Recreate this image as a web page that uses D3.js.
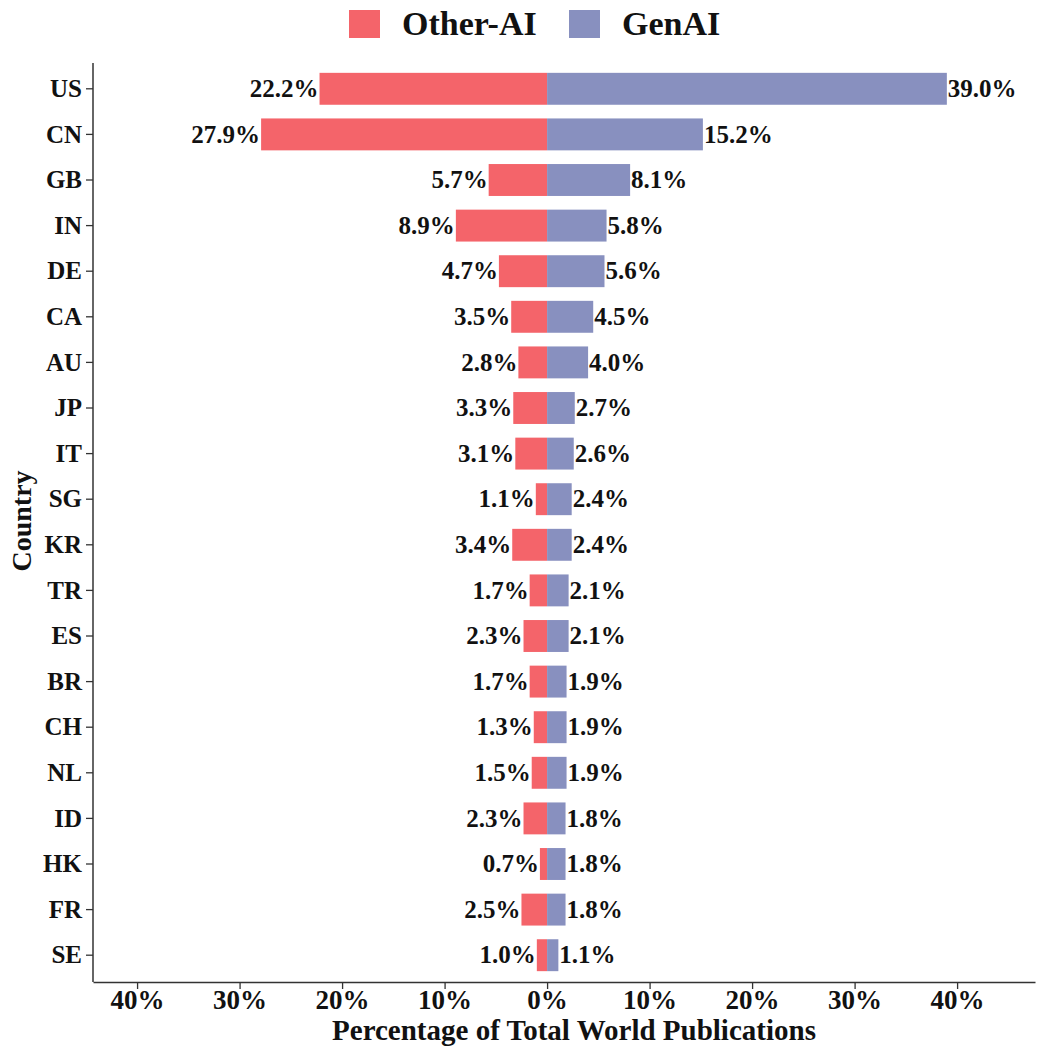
<!DOCTYPE html>
<html><head><meta charset="utf-8">
<script src="https://cdn.jsdelivr.net/npm/d3@7"></script>
<style>
body{margin:0;background:#fff;}
text{font-family:"Liberation Serif","Times New Roman",serif;font-weight:bold;fill:#111;}
</style></head>
<body><svg id="c" width="1038" height="1048"></svg>
<script>
const countries = ["US","CN","GB","IN","DE","CA","AU","JP","IT","SG","KR","TR","ES","BR","CH","NL","ID","HK","FR","SE"];
const otherAI = [22.2,27.9,5.7,8.9,4.7,3.5,2.8,3.3,3.1,1.1,3.4,1.7,2.3,1.7,1.3,1.5,2.3,0.7,2.5,1.0];
const genAI = [39.0,15.2,8.1,5.8,5.6,4.5,4.0,2.7,2.6,2.4,2.4,2.1,2.1,1.9,1.9,1.9,1.8,1.8,1.8,1.1];
const xTicks = [-40,-30,-20,-10,0,10,20,30,40];
const seriesNames = ["Other-AI","GenAI"];
const colors = ["#f4646a","#8890bf"];

const svg = d3.select("#c");
const x = d3.scaleLinear().domain([-44.3,47.6]).range([93,1035]);
const y = d3.scaleBand().domain(countries).range([66,978]).paddingInner(0.3).paddingOuter(0.15);

// bars
svg.append("g").selectAll("rect").data(countries).join("rect")
  .attr("x",(d,i)=>x(-otherAI[i])).attr("y",d=>y(d))
  .attr("width",(d,i)=>x(0)-x(-otherAI[i])).attr("height",y.bandwidth())
  .attr("fill",colors[0]);
svg.append("g").selectAll("rect").data(countries).join("rect")
  .attr("x",x(0)).attr("y",d=>y(d))
  .attr("width",(d,i)=>x(genAI[i])-x(0)).attr("height",y.bandwidth())
  .attr("fill",colors[1]);

// value labels
svg.append("g").selectAll("text").data(countries).join("text")
  .attr("x",(d,i)=>x(-otherAI[i])-1).attr("y",d=>y(d)+y.bandwidth()/2)
  .attr("dy","0.33em").attr("text-anchor","end").style("font-size","25px")
  .text((d,i)=>otherAI[i].toFixed(1)+"%");
svg.append("g").selectAll("text").data(countries).join("text")
  .attr("x",(d,i)=>x(genAI[i])+1).attr("y",d=>y(d)+y.bandwidth()/2)
  .attr("dy","0.33em").attr("text-anchor","start").style("font-size","25px")
  .text((d,i)=>genAI[i].toFixed(1)+"%");

// x axis
const xa = svg.append("g").attr("transform","translate(0,982)")
  .call(d3.axisBottom(x).tickValues(xTicks).tickSize(7).tickSizeOuter(0).tickFormat(d=>Math.abs(d)+"%"));
xa.select(".domain").attr("stroke","#333").attr("stroke-width",1.5);
xa.selectAll(".tick line").attr("stroke","#333").attr("stroke-width",1.3);
xa.selectAll(".tick text").style("font-size","27px").attr("y",27).attr("dy",0);

// y axis
const ya = svg.append("g").attr("transform","translate(93,0)")
  .call(d3.axisLeft(y).tickSize(7).tickSizeOuter(0));
ya.select(".domain").attr("d","M0,63V982").attr("stroke","#333").attr("stroke-width",1.5);
ya.selectAll(".tick line").attr("stroke","#333").attr("stroke-width",1.3);
ya.selectAll(".tick text").style("font-size","25px").attr("x",-11).attr("dy","0.33em");

// axis titles
svg.append("text").attr("x",574).attr("y",1040).attr("text-anchor","middle").style("font-size","29px")
  .text("Percentage of Total World Publications");
svg.append("text").attr("transform","translate(31,521) rotate(-90)").attr("text-anchor","middle").style("font-size","28px")
  .text("Country");

// legend
const lx = [349,569];
const lg = svg.append("g");
seriesNames.forEach((n,i)=>{
  lg.append("rect").attr("x",lx[i]).attr("y",10).attr("width",31).attr("height",28).attr("fill",colors[i]);
  lg.append("text").attr("x",lx[i]+53).attr("y",35).style("font-size","34px").text(n);
});
</script></body></html>
